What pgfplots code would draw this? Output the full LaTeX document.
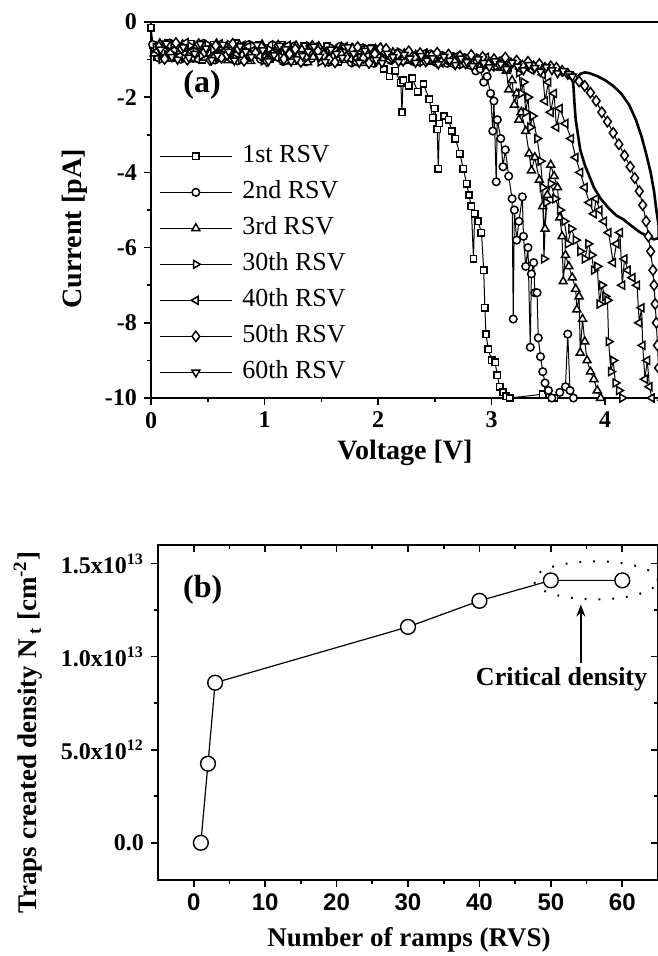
\documentclass[border=0pt]{standalone}
\usepackage{fontspec}
\setmainfont{Liberation Serif}
\setsansfont{Liberation Sans}
\usepackage{pgfplots}
\pgfplotsset{compat=1.18}
\usetikzlibrary{arrows.meta}
\begin{document}
\begin{tikzpicture}
\path[use as bounding box] (0,0) rectangle (328.5pt,-478pt);
% ---------------- panel (a) ----------------
\begin{axis}[
  at={(75.5pt,-11pt)}, anchor=north west, scale only axis,
  width=255.5pt, height=188pt,
  xmin=0, xmax=4.5, ymin=-10, ymax=0,
  axis line style={line width=0.9pt},
  every tick/.style={black, line width=0.8pt},
  tick align=outside, xtick pos=left, ytick pos=left,
  major tick length=3.5pt, minor tick length=2pt,
  xtick={0,1,2,3,4}, xticklabels={0,1,2,3,4}, minor x tick num=1,
  ytick={-10,-8,-6,-4,-2,0}, yticklabels={-10,-8,-6,-4,-2,0}, minor y tick num=1,
  tick label style={font=\fontsize{12}{12}\selectfont\bfseries},
  xlabel={Voltage [V]}, ylabel={Current [pA]},
  label style={font=\fontsize{14}{14}\selectfont\bfseries},
  xlabel style={at={(axis description cs:0.497,-0.146)}, anchor=center},
  ylabel style={at={(axis description cs:-0.149,0.45)}, anchor=center},
  legend style={at={(axis cs:0.07,-3.19)}, anchor=north west, draw=none, fill=none,
    inner sep=0pt, font=\fontsize{13}{13}\selectfont, row sep=4pt, column sep=4pt,
    nodes={inner sep=1pt, text height=9pt, text depth=3pt}},
  legend cell align=left,
  legend image code/.code={\draw[mark repeat=2,mark phase=2,#1] plot coordinates {(0pt,0pt) (18pt,0pt) (36pt,0pt)};},
  every axis plot/.append style={black, line width=0.5pt},
]
% 1st RSV
\addplot[mark=square*, mark size=1.6pt, mark options={solid, fill=white, line width=0.75pt}] coordinates {
(0.00,-0.15) (0.02,-0.62) (0.05,-0.93) (0.10,-0.81) (0.15,-0.55) (0.20,-0.66) (0.25,-0.97) (0.30,-0.86) (0.35,-0.58) (0.40,-0.70) (0.45,-1.00) (0.50,-0.88) (0.55,-0.60) (0.60,-0.71) (0.65,-0.79) (0.70,-0.92) (0.75,-0.57) (0.80,-0.74) (0.85,-1.02) (0.90,-0.85) (0.95,-0.62) (1.00,-0.69) (1.05,-0.98) (1.10,-0.93) (1.15,-0.60) (1.20,-0.77) (1.25,-1.04) (1.30,-0.95) (1.35,-0.65) (1.40,-0.80) (1.45,-0.87) (1.50,-0.96) (1.55,-0.64) (1.60,-0.78) (1.65,-1.06) (1.70,-0.99) (1.75,-0.68) (1.80,-0.82) (1.85,-1.07) (1.90,-1.02) (1.95,-0.70) (2.00,-0.95) (2.05,-1.25) (2.10,-1.45) (2.15,-1.30) (2.20,-1.62) (2.21,-2.40) (2.22,-1.55) (2.27,-1.70) (2.30,-1.50) (2.35,-1.85) (2.40,-1.65) (2.45,-2.05) (2.48,-2.55) (2.50,-2.30) (2.52,-2.85) (2.53,-3.90) (2.54,-2.70) (2.58,-2.50) (2.62,-2.60) (2.65,-2.90) (2.68,-3.10) (2.72,-3.50) (2.75,-3.90) (2.78,-4.30) (2.80,-4.60) (2.82,-4.90) (2.84,-6.30) (2.85,-5.10) (2.88,-5.30) (2.91,-5.60) (2.93,-6.60) (2.94,-7.60) (2.95,-8.30) (2.97,-8.70) (3.00,-9.00) (3.03,-9.05) (3.05,-9.40) (3.07,-9.70) (3.10,-9.85) (3.13,-9.95) (3.16,-10) (3.45,-9.90) (3.50,-9.80) (3.55,-10) (4.50,-10)};
\addlegendentry{1st RSV}
% 2nd RSV
\addplot[mark=*, mark size=1.9pt, mark options={solid, fill=white, line width=0.75pt}] coordinates {
(0.014,-0.60) (0.064,-0.95) (0.114,-0.78) (0.164,-0.56) (0.214,-0.84) (0.264,-0.99) (0.314,-0.62) (0.364,-0.94) (0.414,-0.81) (0.464,-0.57) (0.514,-0.67) (0.564,-1.01) (0.614,-0.90) (0.664,-0.80) (0.714,-0.65) (0.764,-1.03) (0.814,-0.88) (0.864,-0.60) (0.914,-0.72) (0.964,-0.99) (1.014,-0.94) (1.064,-0.62) (1.114,-0.70) (1.164,-1.05) (1.214,-0.89) (1.264,-0.64) (1.314,-0.74) (1.364,-1.06) (1.414,-0.97) (1.464,-0.66) (1.514,-0.76) (1.564,-1.07) (1.614,-0.92) (1.664,-0.65) (1.714,-0.79) (1.764,-1.08) (1.814,-1.00) (1.864,-0.69) (1.914,-0.78) (1.964,-1.10) (2.014,-0.95) (2.06,-0.80) (2.11,-1.02) (2.16,-0.84) (2.21,-0.98) (2.26,-0.83) (2.31,-1.05) (2.36,-0.86) (2.41,-1.02) (2.46,-0.85) (2.51,-1.08) (2.56,-0.90) (2.61,-1.10) (2.66,-0.92) (2.71,-1.12) (2.76,-0.95) (2.81,-1.15) (2.86,-1.30) (2.90,-1.25) (2.93,-1.60) (2.96,-1.45) (2.99,-1.90) (3.01,-2.90) (3.02,-2.10) (3.04,-4.25) (3.05,-2.60) (3.08,-3.10) (3.10,-3.85) (3.12,-3.40) (3.15,-4.10) (3.18,-4.70) (3.19,-7.90) (3.20,-5.00) (3.22,-5.80) (3.24,-5.30) (3.27,-4.65) (3.28,-5.70) (3.30,-6.50) (3.32,-6.00) (3.34,-8.65) (3.35,-6.70) (3.37,-6.40) (3.38,-7.20) (3.40,-7.20) (3.41,-8.40) (3.43,-8.90) (3.45,-9.30) (3.47,-9.60) (3.50,-9.80) (3.53,-10) (3.60,-9.85) (3.65,-9.70) (3.67,-8.30) (3.69,-9.80) (3.72,-10) (4.50,-10)};
\addlegendentry{2nd RSV}
% 3rd RSV
\addplot[mark=triangle*, mark size=2.3pt, mark options={solid, fill=white, line width=0.75pt}] coordinates {
(0.028,-0.84) (0.078,-0.57) (0.128,-0.64) (0.178,-0.98) (0.228,-0.79) (0.278,-0.60) (0.328,-0.88) (0.378,-1.00) (0.428,-0.66) (0.478,-0.95) (0.528,-0.84) (0.578,-0.58) (0.628,-0.69) (0.678,-1.02) (0.728,-0.91) (0.778,-0.61) (0.828,-0.70) (0.878,-1.04) (0.928,-0.83) (0.978,-0.60) (1.028,-0.95) (1.078,-0.84) (1.128,-0.71) (1.178,-1.05) (1.228,-0.88) (1.278,-0.63) (1.328,-0.73) (1.378,-1.07) (1.428,-0.93) (1.478,-0.65) (1.528,-0.82) (1.578,-1.04) (1.628,-0.74) (1.678,-0.67) (1.728,-0.96) (1.778,-0.70) (1.828,-0.79) (1.878,-1.09) (1.928,-0.91) (1.978,-0.72) (2.028,-0.76) (2.08,-0.98) (2.13,-0.81) (2.18,-1.00) (2.23,-0.84) (2.28,-1.03) (2.33,-0.88) (2.38,-0.99) (2.43,-0.84) (2.48,-1.06) (2.53,-0.89) (2.58,-1.04) (2.63,-0.91) (2.68,-1.09) (2.73,-0.93) (2.78,-1.12) (2.83,-0.96) (2.88,-1.14) (2.93,-0.98) (2.98,-1.17) (3.03,-1.02) (3.08,-1.22) (3.13,-1.30) (3.15,-1.80) (3.18,-1.55) (3.20,-2.20) (3.22,-1.90) (3.24,-2.60) (3.26,-2.40) (3.30,-2.90) (3.33,-3.50) (3.35,-3.95) (3.38,-3.60) (3.42,-4.20) (3.45,-4.90) (3.47,-5.50) (3.49,-4.60) (3.52,-3.80) (3.55,-4.10) (3.58,-4.40) (3.60,-5.20) (3.62,-5.70) (3.63,-6.90) (3.65,-6.20) (3.68,-6.50) (3.71,-6.80) (3.74,-7.10) (3.75,-7.65) (3.77,-7.30) (3.78,-8.80) (3.80,-7.90) (3.82,-8.50) (3.84,-9.00) (3.87,-9.30) (3.90,-9.50) (3.93,-9.80) (3.96,-10) (4.50,-10)};
\addlegendentry{3rd RSV}
% 30th RSV
\addplot[mark=triangle*, mark size=2.3pt, mark options={solid, fill=white, line width=0.75pt, rotate=-90}] coordinates {
(0.042,-0.68) (0.092,-0.99) (0.142,-0.87) (0.192,-0.58) (0.242,-0.70) (0.292,-0.96) (0.342,-0.63) (0.392,-0.78) (0.442,-0.90) (0.492,-0.59) (0.542,-0.74) (0.592,-0.98) (0.642,-0.86) (0.692,-0.60) (0.742,-0.68) (0.792,-1.01) (0.842,-0.95) (0.892,-0.63) (0.942,-0.77) (0.992,-1.03) (1.042,-0.73) (1.092,-0.61) (1.142,-0.92) (1.192,-1.04) (1.242,-0.75) (1.292,-0.88) (1.342,-0.97) (1.392,-0.64) (1.442,-0.72) (1.492,-1.06) (1.542,-0.90) (1.592,-0.68) (1.642,-0.97) (1.692,-0.66) (1.742,-0.77) (1.792,-1.08) (1.842,-0.94) (1.892,-0.71) (1.942,-0.83) (1.992,-1.05) (2.042,-1.00) (2.09,-0.85) (2.14,-0.97) (2.19,-0.80) (2.24,-1.04) (2.29,-0.86) (2.34,-0.96) (2.39,-1.06) (2.44,-0.88) (2.49,-0.99) (2.54,-1.10) (2.59,-0.90) (2.64,-1.06) (2.69,-0.94) (2.74,-1.13) (2.79,-0.99) (2.84,-1.08) (2.89,-0.96) (2.94,-1.16) (2.99,-1.03) (3.04,-1.18) (3.09,-1.05) (3.14,-1.22) (3.19,-1.12) (3.24,-1.35) (3.26,-1.90) (3.28,-1.60) (3.30,-2.40) (3.32,-2.00) (3.34,-2.80) (3.36,-2.50) (3.40,-3.10) (3.43,-3.70) (3.45,-4.40) (3.46,-6.30) (3.48,-4.80) (3.52,-4.30) (3.56,-4.70) (3.60,-5.00) (3.64,-5.30) (3.67,-5.90) (3.70,-5.50) (3.74,-5.80) (3.78,-6.10) (3.82,-6.30) (3.85,-5.90) (3.88,-6.20) (3.90,-6.60) (3.93,-6.50) (3.95,-7.50) (3.97,-7.00) (4.00,-7.30) (4.02,-7.40) (4.03,-8.50) (4.05,-9.30) (4.07,-9.00) (4.09,-9.60) (4.12,-9.80) (4.15,-10) (4.50,-10)};
\addlegendentry{30th RSV}
% 40th RSV
\addplot[mark=triangle*, mark size=2.3pt, mark options={solid, fill=white, line width=0.75pt, rotate=90}] coordinates {
(0.056,-0.77) (0.106,-0.96) (0.156,-0.62) (0.206,-0.74) (0.256,-0.90) (0.306,-0.55) (0.356,-0.79) (0.406,-0.99) (0.456,-0.64) (0.506,-0.83) (0.556,-0.92) (0.606,-0.58) (0.656,-0.75) (0.706,-1.00) (0.756,-0.85) (0.806,-0.62) (0.856,-0.65) (0.906,-0.74) (0.956,-0.91) (1.006,-1.02) (1.056,-0.83) (1.106,-0.95) (1.156,-0.67) (1.206,-0.62) (1.256,-0.96) (1.306,-1.03) (1.356,-0.86) (1.406,-0.64) (1.456,-0.70) (1.506,-0.85) (1.556,-0.94) (1.606,-1.06) (1.656,-0.80) (1.706,-0.66) (1.756,-0.98) (1.806,-1.07) (1.856,-0.73) (1.906,-0.90) (1.956,-0.99) (2.006,-0.69) (2.056,-0.81) (2.10,-1.02) (2.15,-0.88) (2.20,-1.05) (2.25,-0.82) (2.30,-0.99) (2.35,-1.07) (2.40,-0.84) (2.45,-1.01) (2.50,-0.87) (2.55,-1.09) (2.60,-0.98) (2.65,-1.12) (2.70,-0.89) (2.75,-1.04) (2.80,-0.92) (2.85,-1.16) (2.90,-1.02) (2.95,-0.94) (3.00,-1.19) (3.05,-1.06) (3.10,-0.97) (3.15,-1.20) (3.20,-1.08) (3.25,-1.25) (3.30,-1.12) (3.35,-1.28) (3.40,-1.20) (3.45,-1.40) (3.47,-2.10) (3.50,-1.60) (3.52,-2.40) (3.55,-1.90) (3.57,-2.80) (3.60,-2.30) (3.65,-2.70) (3.70,-3.10) (3.74,-3.60) (3.78,-4.00) (3.82,-4.40) (3.86,-4.80) (3.90,-5.10) (3.92,-4.70) (3.95,-5.00) (3.99,-5.30) (4.03,-5.60) (4.07,-6.40) (4.10,-5.90) (4.13,-5.60) (4.15,-7.00) (4.17,-6.30) (4.20,-6.60) (4.24,-6.80) (4.28,-7.00) (4.30,-8.00) (4.32,-7.60) (4.33,-8.60) (4.35,-9.50) (4.37,-9.00) (4.39,-9.70) (4.41,-10) (4.50,-10)};
\addlegendentry{40th RSV}
% 50th RSV
\addplot[mark=diamond*, mark size=2.6pt, mark options={solid, fill=white, line width=0.75pt}] coordinates {
(0.07,-0.66) (0.12,-0.98) (0.17,-0.85) (0.22,-0.56) (0.27,-0.71) (0.32,-1.00) (0.37,-0.92) (0.42,-0.59) (0.47,-0.80) (0.52,-1.01) (0.57,-0.63) (0.62,-0.95) (0.67,-0.87) (0.72,-0.58) (0.77,-0.72) (0.82,-1.03) (0.87,-0.90) (0.92,-0.82) (0.97,-0.66) (1.02,-1.04) (1.07,-0.86) (1.12,-0.63) (1.17,-0.98) (1.22,-0.85) (1.27,-0.72) (1.32,-1.06) (1.37,-0.90) (1.42,-0.64) (1.47,-0.77) (1.52,-0.88) (1.57,-0.99) (1.62,-1.07) (1.67,-0.84) (1.72,-0.93) (1.77,-0.71) (1.82,-0.67) (1.87,-0.96) (1.92,-1.09) (1.97,-0.85) (2.02,-0.70) (2.07,-0.72) (2.12,-0.95) (2.17,-0.86) (2.22,-1.02) (2.27,-0.78) (2.32,-0.94) (2.37,-0.83) (2.42,-1.05) (2.47,-0.90) (2.52,-0.82) (2.57,-1.02) (2.62,-0.87) (2.67,-1.06) (2.72,-0.91) (2.77,-1.10) (2.82,-0.88) (2.87,-1.05) (2.92,-0.93) (2.97,-1.12) (3.02,-0.99) (3.07,-1.14) (3.12,-0.95) (3.17,-1.10) (3.22,-1.03) (3.27,-1.16) (3.32,-1.06) (3.37,-1.18) (3.42,-1.12) (3.47,-1.22) (3.52,-1.18) (3.57,-1.22) (3.62,-1.30) (3.67,-1.38) (3.72,-1.48) (3.77,-1.58) (3.82,-1.70) (3.87,-1.88) (3.92,-2.10) (3.97,-2.40) (4.02,-2.65) (4.07,-2.95) (4.12,-3.25) (4.17,-3.55) (4.22,-3.85) (4.26,-4.15) (4.30,-4.50) (4.33,-4.87) (4.36,-5.30) (4.38,-5.70) (4.40,-6.10) (4.42,-6.60) (4.43,-7.00) (4.44,-7.50) (4.45,-8.00) (4.46,-8.60) (4.47,-9.20)};
\addlegendentry{50th RSV}
% 60th RSV
\addplot[mark=triangle*, mark size=2.3pt, mark options={solid, fill=white, line width=0.75pt, rotate=180}] coordinates {
(0.084,-0.73) (0.134,-0.57) (0.184,-0.93) (0.234,-1.00) (0.284,-0.67) (0.334,-0.95) (0.384,-0.84) (0.434,-0.58) (0.484,-0.70) (0.534,-1.01) (0.584,-0.89) (0.634,-0.60) (0.684,-0.79) (0.734,-1.02) (0.784,-0.64) (0.834,-0.79) (0.884,-0.93) (0.934,-0.61) (0.984,-0.75) (1.034,-1.04) (1.084,-0.88) (1.134,-0.63) (1.184,-0.72) (1.234,-1.05) (1.284,-0.99) (1.334,-0.90) (1.384,-0.78) (1.434,-0.65) (1.484,-0.92) (1.534,-1.06) (1.584,-0.73) (1.634,-0.84) (1.684,-0.95) (1.734,-0.67) (1.784,-0.84) (1.834,-1.08) (1.884,-0.76) (1.934,-0.69) (1.984,-1.01) (2.034,-1.09) (2.084,-0.84) (2.13,-0.93) (2.18,-1.06) (2.23,-0.87) (2.28,-0.97) (2.33,-1.08) (2.38,-0.90) (2.43,-1.03) (2.48,-0.96) (2.53,-1.12) (2.58,-0.92) (2.63,-1.03) (2.68,-1.14) (2.73,-0.97) (2.78,-1.06) (2.83,-1.17) (2.88,-0.99) (2.93,-1.09) (2.98,-1.20) (3.03,-1.04) (3.08,-1.12) (3.13,-1.25) (3.18,-1.08) (3.23,-1.18) (3.28,-1.28) (3.33,-1.14) (3.38,-1.22) (3.43,-1.32) (3.48,-1.20) (3.53,-1.28) (3.58,-1.36) (3.63,-1.30) (3.68,-1.38) (3.71,-1.45)};
\addlegendentry{60th RSV}
\addplot[black, line width=1.3pt, no marks, forget plot] coordinates {
(3.71,-1.45) (3.72,-1.70) (3.73,-2.20) (3.74,-2.60) (3.76,-3.00) (3.78,-3.40) (3.82,-3.80) (3.86,-4.10) (3.90,-4.40) (3.96,-4.70) (4.03,-4.95) (4.10,-5.15) (4.16,-5.25) (4.23,-5.42) (4.30,-5.58) (4.37,-5.70) (4.43,-5.78) (4.47,-5.75) (4.47,-5.40) (4.45,-5.00) (4.43,-4.50) (4.40,-4.00) (4.36,-3.50) (4.32,-3.05) (4.27,-2.60) (4.21,-2.20) (4.14,-1.90) (4.07,-1.70) (4.00,-1.55) (3.93,-1.44) (3.86,-1.36) (3.82,-1.34) (3.78,-1.38) (3.76,-1.45)};
\node[font=\fontsize{16}{16}\selectfont\bfseries] at (axis cs:0.45,-1.68) {(a)};
\end{axis}
% ---------------- panel (b) ----------------
\begin{axis}[
  at={(79pt,-272.5pt)}, anchor=north west, scale only axis,
  width=250pt, height=167.5pt,
  xmin=-5, xmax=65, ymin=-2e12, ymax=1.6e13,
  axis line style={line width=0.9pt},
  every tick/.style={black, line width=0.8pt},
  tick align=outside, xtick pos=left, ytick pos=left,
  major tick length=3.5pt, minor tick length=2pt,
  xtick={0,10,20,30,40,50,60}, xticklabels={0,10,20,30,40,50,60}, minor x tick num=1,
  ytick={0,5e12,1e13,1.5e13},
  yticklabels={0.0,5.0x10\textsuperscript{12},1.0x10\textsuperscript{13},1.5x10\textsuperscript{13}},
  minor y tick num=1, scaled y ticks=false, scaled x ticks=false,
  x tick label style={font=\fontsize{12}{12}\selectfont\sffamily\bfseries},
  y tick label style={font=\fontsize{12}{12}\selectfont\bfseries},
  xlabel={Number of ramps (RVS)}, ylabel={Traps created density N\,\textsubscript{t} [cm\textsuperscript{-2}]},
  label style={font=\fontsize{13.5}{13.5}\selectfont\bfseries},
  xlabel style={at={(axis description cs:0.502,-0.179)}, anchor=center},
  ylabel style={at={(axis description cs:-0.26,0.44)}, anchor=center},
]
\addplot[black, line width=0.6pt, mark=*, mark size=3.7pt, mark options={fill=white, line width=0.7pt}] coordinates {
(1,0) (2,4.25e12) (3,8.6e12) (30,1.16e13) (40,1.30e13) (50,1.41e13) (60,1.41e13)};
\draw[line width=1pt, dash pattern=on 0.9pt off 6pt] (axis cs:56.3,1.41e13) ellipse [x radius=31pt, y radius=9.5pt];
\draw[-{Stealth[length=6pt,width=4.5pt]}, line width=0.8pt] (axis cs:54.2,9.68e12) -- (axis cs:54.2,1.28e13);
\node[font=\fontsize{13}{13}\selectfont\bfseries] at (axis cs:51.5,8.76e12) {Critical density};
\node[font=\fontsize{16}{16}\selectfont\bfseries] at (axis cs:1.26,1.36e13) {(b)};
\end{axis}
\begin{axis}[
  at={(79pt,-272.5pt)}, anchor=north west, scale only axis,
  width=250pt, height=167.5pt,
  xmin=-5, xmax=65, ymin=-2e12, ymax=1.6e13,
  axis line style={line width=0.9pt},
  every tick/.style={black, line width=0.8pt},
  tick align=inside, xtick pos=right, ytick pos=right,
  major tick length=3.5pt, minor tick length=2pt,
  xtick={0,10,20,30,40,50,60}, minor x tick num=1,
  ytick={0,5e12,1e13,1.5e13}, minor y tick num=1,
  scaled y ticks=false, xticklabels={}, yticklabels={},
]
\end{axis}
\end{tikzpicture}
\end{document}
